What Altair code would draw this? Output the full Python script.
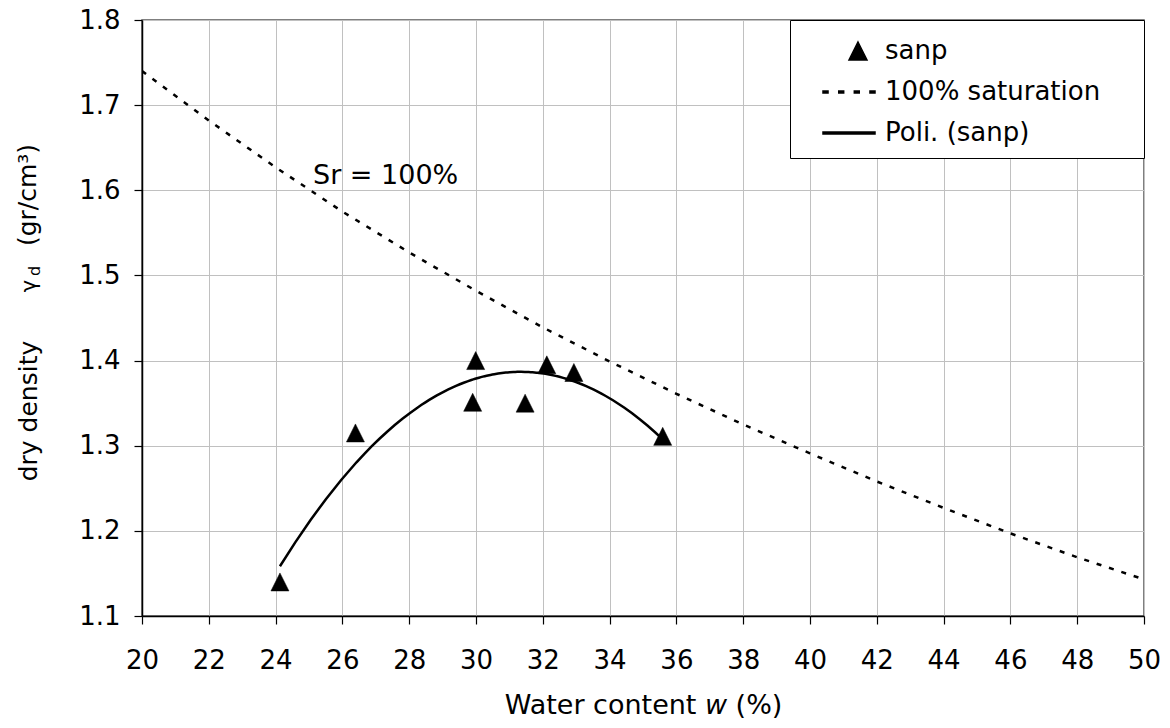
import altair as alt
import pandas as pd

# ---- data ----
w_pts = [24.13, 26.39, 29.90, 29.99, 31.47, 32.12, 32.93, 35.59]
gd_pts = [1.140, 1.315, 1.351, 1.400, 1.350, 1.395, 1.386, 1.311]

w_sat = [20, 22, 24, 26, 28, 30, 32, 34, 36, 38, 40, 42, 44, 46, 48, 50]
gd_sat = [1.740, 1.682, 1.627, 1.575, 1.527, 1.482, 1.439, 1.399, 1.361,
          1.325, 1.291, 1.258, 1.227, 1.197, 1.169, 1.143]

fit_extent = [24.13, 35.59]

series_names = ["sanp", "100% saturation", "Poli. (sanp)"]
x_ticks = list(range(20, 51, 2))
y_ticks = [1.1, 1.2, 1.3, 1.4, 1.5, 1.6, 1.7, 1.8]

x_title = "Water content \U0001D638 (%)"
y_title_parts = ["dry density", "\u03b3", "d", "(gr/cm\u00b3)"]
annot_text = ["Sr = 100%"]
annot_w = [25.12]
annot_gd = [1.607]

FONT = "DejaVu Sans"

pts = pd.DataFrame({"w": w_pts, "gd": gd_pts, "series": series_names[0]})
sat = pd.DataFrame({"w": w_sat, "gd": gd_sat})
ann = pd.DataFrame({"w": annot_w, "gd": annot_gd, "t": annot_text})

# legend / marker glyphs (filled shapes, scaled by sqrt(size)/2)
tri = "M0,-1L1,1L-1,1Z"
solid = "M-3.89,-0.12H1.89V0.12H-3.89Z"
dash_spans = [(-3.89, -3.33), (-2.14, -1.59), (-0.41, 0.14), (1.33, 1.89)]
dashed = "".join(f"M{a},-0.12H{b}V0.12H{a}Z" for a, b in dash_spans)

# an invisible, 3px-high spacer title gives the legend box its width
legend_spacer = "W" * 111

xs = alt.Scale(domain=[20, 50], nice=False, zero=False)
ys = alt.Scale(domain=[1.1, 1.8], nice=False, zero=False)

x_enc = alt.X("w:Q", scale=xs, axis=alt.Axis(
    values=x_ticks, title=x_title, labelFontSize=26, titleFontSize=27,
    titleFontWeight="normal", labelPadding=23, titleY=97,
    titleBaseline="alphabetic", labelFlush=False, labelOverlap=False))
y_enc = alt.Y("gd:Q", scale=ys, axis=alt.Axis(
    values=y_ticks, format=".1f", title=None, labelFontSize=26,
    labelPadding=14, labelFlush=False, labelOverlap=False))

sat_layer = alt.Chart(sat).mark_line(
    color="black", strokeWidth=2.5, strokeDash=[5, 8], clip=True
).encode(x=x_enc, y=y_enc)

fit_layer = alt.Chart(pts).transform_regression(
    "w", "gd", method="poly", order=2, extent=fit_extent
).mark_line(color="black", strokeWidth=2.5).encode(x=x_enc, y=y_enc)

pt_layer = alt.Chart(pts).mark_point(
    filled=True, fill="black", stroke="black", strokeWidth=0.5, size=324, opacity=1
).encode(
    x=x_enc, y=y_enc,
    shape=alt.Shape("series:N", scale=alt.Scale(domain=series_names,
                                                 range=[tri, dashed, solid]),
                    legend=alt.Legend(
                        title=legend_spacer, titleFontSize=3, titleFont=FONT,
                        titleColor="transparent", titlePadding=3,
                        titleLimit=2000, titleFontWeight="normal",
                        orient="none", legendX=648, legendY=0,
                        labelFontSize=26, labelFont=FONT, labelLimit=500,
                        padding=12, symbolOffset=43, labelOffset=14,
                        rowPadding=15, symbolSize=324,
                        symbolFillColor="black",
                        strokeColor="black", fillColor="white",
                    )),
)

sr_layer = alt.Chart(ann).mark_text(
    align="left", baseline="alphabetic", fontSize=27, font=FONT, color="black"
).encode(x="w:Q", y="gd:Q", text="t:N")

one = pd.DataFrame({"k": [0]})
yt1 = alt.Chart(one).mark_text(
    text=y_title_parts[0], angle=270, align="center", baseline="alphabetic",
    fontSize=25, font=FONT, color="black"
).encode(x=alt.value(-105.5), y=alt.value(391))
yt2 = alt.Chart(one).mark_text(
    text=y_title_parts[1], angle=270, align="center", baseline="alphabetic",
    fontSize=21, font=FONT, color="black"
).encode(x=alt.value(-106), y=alt.value(266))
yt3 = alt.Chart(one).mark_text(
    text=y_title_parts[2], angle=270, align="center", baseline="alphabetic",
    fontSize=16, font=FONT, color="black"
).encode(x=alt.value(-102), y=alt.value(251))
yt4 = alt.Chart(one).mark_text(
    text=y_title_parts[3], angle=270, align="center", baseline="alphabetic",
    fontSize=25, font=FONT, color="black"
).encode(x=alt.value(-106), y=alt.value(175))

chart = alt.layer(
    sat_layer, fit_layer, pt_layer, sr_layer, yt1, yt2, yt3, yt4
).properties(
    width=1002, height=596,
    autosize=alt.AutoSizeParams(type="none"),
    padding={"left": 134, "top": 12, "right": 18, "bottom": 104},
).configure(
    font=FONT,
).configure_view(
    stroke="#555555", strokeWidth=1.5
).configure_axis(
    labelFont=FONT, titleFont=FONT, labelColor="black", titleColor="black",
    gridColor="#c0c0c0", gridWidth=1, domainColor="black", domainWidth=1.5,
    tickColor="black", tickSize=8, tickWidth=1.2,
)

chart.save("out.html", embed_options={"renderer": "svg", "actions": False})
